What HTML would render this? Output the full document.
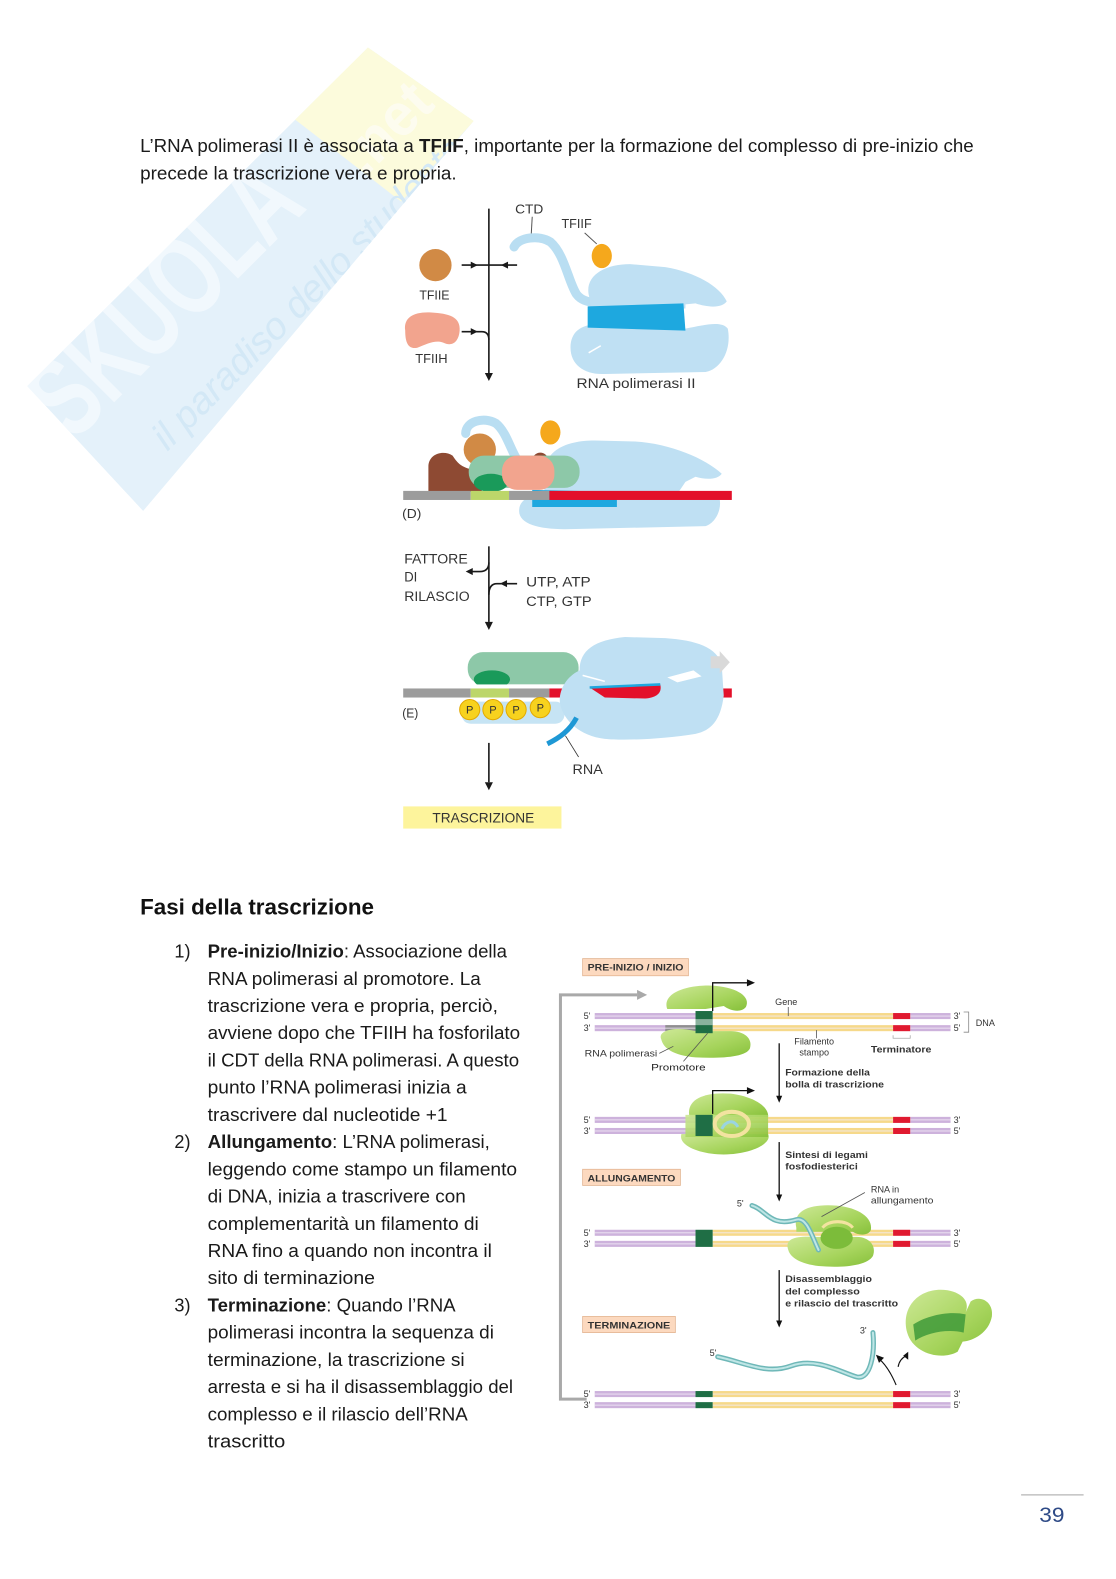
<!DOCTYPE html>
<html>
<head>
<meta charset="utf-8">
<style>
  html, body { margin:0; padding:0; background:#ffffff; }
  body { width:1116px; height:1579px; overflow:hidden; }
  svg { display:block; }
  .t { font-family:"Liberation Sans", sans-serif; }
</style>
</head>
<body>
<svg width="1116" height="1579" viewBox="0 0 1116 1579" xmlns="http://www.w3.org/2000/svg">
  <defs>
    <linearGradient id="gp" x1="0" y1="0" x2="1" y2="1">
      <stop offset="0" stop-color="#cde896"/>
      <stop offset="0.6" stop-color="#a6d45c"/>
      <stop offset="1" stop-color="#86c03a"/>
    </linearGradient>
    <clipPath id="wmclip">
      <polygon points="27,383 365,47 470,120 142,507"/>
    </clipPath>
  </defs>
  <rect x="0" y="0" width="1116" height="1579" fill="#ffffff"/>

<g transform="scale(1.008)">
  <!-- Watermark -->
  <g clip-path="url(#wmclip)">
    <polygon points="27,383 365,47 470,120 142,507" fill="#e4f1fa"/>
    <polygon points="292,118 365,47 470,120 398,200" fill="#fcfbdc"/>
    <g transform="rotate(-45 200 270)">
      <text x="-10" y="300" class="t" font-size="115" font-weight="bold" fill="#f1f8fd" textLength="330" lengthAdjust="spacingAndGlyphs">SKUOLA</text>
      <text x="50" y="372" class="t" font-size="38" font-style="italic" fill="#d3e8f6" textLength="420" lengthAdjust="spacingAndGlyphs">il paradiso dello studente</text>
    </g>
    <g transform="rotate(-45 380 130)">
      <text x="335" y="150" class="t" font-size="60" font-weight="bold" fill="#fdfcef" textLength="100" lengthAdjust="spacingAndGlyphs">.net</text>
    </g>
  </g>

  <!-- Top paragraph -->
  <text x="139" y="151" class="t" font-size="18" fill="#1a1a1a" textLength="827" lengthAdjust="spacingAndGlyphs">L’RNA polimerasi II è associata a <tspan font-weight="bold">TFIIF</tspan>, importante per la formazione del complesso di pre-inizio che</text>
  <text x="139" y="178" class="t" font-size="18" fill="#1a1a1a" textLength="314" lengthAdjust="spacingAndGlyphs">precede la trascrizione vera e propria.</text>

  <!-- ===== Top diagram ===== -->
  <g stroke="#1a1a1a" fill="none" stroke-width="1.6">
    <line x1="485" y1="207" x2="485" y2="370"/>
    <line x1="458" y1="263" x2="513" y2="263"/>
    <path d="M458,329 L478,329 Q485,329 485,337"/>
  </g>
  <polygon points="481,370 489,370 485,378" fill="#1a1a1a"/>
  <polygon points="474,263 467,259.5 467,266.5" fill="#1a1a1a"/>
  <polygon points="497,263 504,259.5 504,266.5" fill="#1a1a1a"/>
  <polygon points="474,329 467,325.5 467,332.5" fill="#1a1a1a"/>

  <circle cx="432" cy="263" r="16" fill="#d18a45"/>
  <text x="416" y="297" class="t" font-size="13" fill="#333" textLength="30" lengthAdjust="spacingAndGlyphs">TFIIE</text>
  <path d="M402,328 C400,314 412,309 428,310 C445,311 457,314 456,328 C455,340 448,344 440,340 C432,337 424,341 414,345 C404,347 402,338 402,328 Z" fill="#f2a48e"/>
  <text x="412" y="360" class="t" font-size="13" fill="#333" textLength="32" lengthAdjust="spacingAndGlyphs">TFIIH</text>

  <text x="511" y="212" class="t" font-size="13" fill="#333" textLength="28" lengthAdjust="spacingAndGlyphs">CTD</text>
  <line x1="528" y1="215" x2="527" y2="233" stroke="#555" stroke-width="1"/>
  <text x="557" y="226" class="t" font-size="13" fill="#333" textLength="30" lengthAdjust="spacingAndGlyphs">TFIIF</text>
  <line x1="580" y1="231" x2="592" y2="242" stroke="#555" stroke-width="1"/>

  <path d="M510,245 C515,235 535,233 546,240 C560,252 564,280 572,292 C578,300 590,301 602,299" stroke="#b9def2" stroke-width="9" fill="none" stroke-linecap="round"/>
  <!-- polymerase panel 1 -->
  <path d="M585,296 C578,275 598,262 625,262 L660,265 C690,270 714,284 721,299 C716,306 702,305 690,301 L680,302 L680,306 L586,306 Z" fill="#bfe0f3"/>
  <path d="M566,345 C566,328 578,320 600,322 L680,326 C700,322 716,318 722,326 C726,346 716,366 700,369 L600,371 C580,372 566,362 566,345 Z" fill="#bfe0f3"/>
  <path d="M583,304 L678,301 L680,328 L583,325 Z" fill="#1ea8df"/>
  <path d="M584,350 L596,343" stroke="#ffffff" stroke-width="1.5"/>
  <ellipse cx="597" cy="254" rx="10" ry="12" fill="#f5a81c"/>
  <text x="572" y="385" class="t" font-size="14" fill="#333" textLength="118" lengthAdjust="spacingAndGlyphs">RNA polimerasi II</text>

  <!-- Panel D -->
  <path d="M462,430 C462,418 480,413 492,420 C502,428 506,445 513,456" stroke="#b9def2" stroke-width="9" fill="none" stroke-linecap="round"/>
  <path d="M540,470 C540,448 560,437 590,437 L630,438 C665,440 700,455 716,470 C712,476 700,476 690,473 L680,478 L672,490 L540,490 Z" fill="#bfe0f3"/>
  <path d="M515,507 C515,496 525,490 545,490 L675,490 C690,488 705,485 712,490 C718,500 712,518 700,522 L560,525 C535,525 515,520 515,507 Z" fill="#bfe0f3"/>
  <path d="M528,486 L612,488 L612,503 L528,503 Z" fill="#1ea8df"/>
  <ellipse cx="546" cy="429" rx="10" ry="12" fill="#f5a81c"/>
  <path d="M425,488 L425,463 C425,450 440,446 449,452 C453,458 457,464 470,466 L478,470 L478,488 Z" fill="#8e4a33"/>
  <circle cx="476" cy="446" r="16" fill="#d18a45"/>
  <circle cx="536" cy="457" r="8" fill="#8e4a33"/>
  <rect x="465" y="452" width="110" height="32" rx="15" fill="#8dc8a8"/>
  <ellipse cx="487" cy="479" rx="17" ry="9" fill="#1a9a5a"/>
  <rect x="498" y="452" width="52" height="34" rx="15" fill="#f2a48e"/>
  <rect x="400" y="487" width="67" height="9" fill="#9c9c9c"/>
  <rect x="467" y="487" width="38" height="9" fill="#bcd66a"/>
  <rect x="505" y="487" width="40" height="9" fill="#9c9c9c"/>
  <rect x="545" y="487" width="181" height="9" fill="#e3102a"/>
  <text x="399" y="514" class="t" font-size="13" fill="#333" textLength="19" lengthAdjust="spacingAndGlyphs">(D)</text>

  <!-- middle arrows -->
  <g stroke="#1a1a1a" fill="none" stroke-width="1.6">
    <line x1="485" y1="542" x2="485" y2="617"/>
    <path d="M485,558 Q485,567 476,567 L468,567"/>
    <path d="M513,579 L493,579 Q485,579 485,590"/>
  </g>
  <polygon points="481,617 489,617 485,625" fill="#1a1a1a"/>
  <polygon points="462,567 469,563.5 469,570.5" fill="#1a1a1a"/>
  <polygon points="496,579 503,575.5 503,582.5" fill="#1a1a1a"/>
  <text x="401" y="559" class="t" font-size="14" fill="#333" textLength="63" lengthAdjust="spacingAndGlyphs">FATTORE</text>
  <text x="401" y="577" class="t" font-size="14" fill="#333" textLength="13" lengthAdjust="spacingAndGlyphs">DI</text>
  <text x="401" y="596" class="t" font-size="14" fill="#333" textLength="65" lengthAdjust="spacingAndGlyphs">RILASCIO</text>
  <text x="522" y="582" class="t" font-size="14" fill="#333" textLength="64" lengthAdjust="spacingAndGlyphs">UTP, ATP</text>
  <text x="522" y="601" class="t" font-size="14" fill="#333" textLength="65" lengthAdjust="spacingAndGlyphs">CTP, GTP</text>

  <!-- Panel E -->
  <rect x="464" y="647" width="110" height="32" rx="15" fill="#8dc8a8"/>
  <ellipse cx="488" cy="674" rx="18" ry="9" fill="#1a9a5a"/>
  <rect x="464" y="679" width="110" height="4" fill="#ffffff"/>
  <rect x="458" y="696" width="102" height="22" rx="9" fill="#c6e4f4"/>
  <rect x="400" y="683" width="67" height="9" fill="#9c9c9c"/>
  <rect x="467" y="683" width="38" height="9" fill="#bcd66a"/>
  <rect x="505" y="683" width="40" height="9" fill="#9c9c9c"/>
  <rect x="545" y="683" width="15" height="9" fill="#e3102a"/>
  <rect x="705" y="683" width="21" height="9" fill="#e3102a"/>
  <path d="M575,665 C575,645 590,635 620,632 L660,633 C690,635 712,642 716,660 L718,690 C715,715 705,725 690,728 C660,733 620,735 600,733 C575,730 560,715 556,700 C553,688 560,672 575,665 Z" fill="#bfe0f3"/>
  <path d="M662,672 L688,665 L696,671 L672,677 Z" fill="#ffffff"/>
  <path d="M578,670 L600,676" stroke="#ffffff" stroke-width="1.5"/>
  <path d="M585,682 L655,679 C657,687 652,692 640,693 L600,692 Z" fill="#e3102a"/>
  <path d="M585,682 L655,679" stroke="#1ea8df" stroke-width="2.5"/>
  <path d="M705,651 L714,651 L714,646 L724,657 L714,668 L714,663 L705,663 Z" fill="#d9d9d9"/>
  <g class="t" font-size="11" text-anchor="middle" fill="#333">
    <circle cx="466" cy="704" r="10" fill="#f7d21e" stroke="#e3a900" stroke-width="1"/>
    <text x="466" y="708">P</text>
    <circle cx="489" cy="704" r="10" fill="#f7d21e" stroke="#e3a900" stroke-width="1"/>
    <text x="489" y="708">P</text>
    <circle cx="512" cy="704" r="10" fill="#f7d21e" stroke="#e3a900" stroke-width="1"/>
    <text x="512" y="708">P</text>
    <circle cx="536" cy="702" r="10" fill="#f7d21e" stroke="#e3a900" stroke-width="1"/>
    <text x="536" y="706">P</text>
  </g>
  <text x="399" y="712" class="t" font-size="13" fill="#333" textLength="16" lengthAdjust="spacingAndGlyphs">(E)</text>
  <path d="M543,738 C555,732 565,725 572,712" stroke="#1e98d5" stroke-width="5" fill="none"/>
  <line x1="561" y1="730" x2="574" y2="751" stroke="#333" stroke-width="0.8"/>
  <text x="568" y="768" class="t" font-size="14" fill="#333" textLength="30" lengthAdjust="spacingAndGlyphs">RNA</text>
  <line x1="485" y1="737" x2="485" y2="776" stroke="#1a1a1a" stroke-width="1.6"/>
  <polygon points="481,776 489,776 485,784" fill="#1a1a1a"/>
  <rect x="400" y="800" width="157" height="22" fill="#fdf49c"/>
  <text x="429" y="816" class="t" font-size="14" fill="#333" textLength="101" lengthAdjust="spacingAndGlyphs">TRASCRIZIONE</text>

  <!-- Heading -->
  <text x="139" y="907" class="t" font-size="22" font-weight="bold" fill="#111" textLength="232" lengthAdjust="spacingAndGlyphs">Fasi della trascrizione</text>

  <!-- List -->
  <g class="t" font-size="18" fill="#1a1a1a">
    <text x="173" y="950">1)</text>
    <text x="206" y="950" textLength="297" lengthAdjust="spacingAndGlyphs"><tspan font-weight="bold">Pre-inizio/Inizio</tspan>: Associazione della</text>
    <text x="206" y="977" textLength="271" lengthAdjust="spacingAndGlyphs">RNA polimerasi al promotore. La</text>
    <text x="206" y="1004" textLength="288" lengthAdjust="spacingAndGlyphs">trascrizione vera e propria, perciò,</text>
    <text x="206" y="1031" textLength="310" lengthAdjust="spacingAndGlyphs">avviene dopo che TFIIH ha fosforilato</text>
    <text x="206" y="1058" textLength="309" lengthAdjust="spacingAndGlyphs">il CDT della RNA polimerasi. A questo</text>
    <text x="206" y="1085" textLength="257" lengthAdjust="spacingAndGlyphs">punto l’RNA polimerasi inizia a</text>
    <text x="206" y="1112" textLength="238" lengthAdjust="spacingAndGlyphs">trascrivere dal nucleotide +1</text>
    <text x="173" y="1139">2)</text>
    <text x="206" y="1139" textLength="280" lengthAdjust="spacingAndGlyphs"><tspan font-weight="bold">Allungamento</tspan>: L’RNA polimerasi,</text>
    <text x="206" y="1166" textLength="307" lengthAdjust="spacingAndGlyphs">leggendo come stampo un filamento</text>
    <text x="206" y="1193" textLength="256" lengthAdjust="spacingAndGlyphs">di DNA, inizia a trascrivere con</text>
    <text x="206" y="1220" textLength="269" lengthAdjust="spacingAndGlyphs">complementarità un filamento di</text>
    <text x="206" y="1247" textLength="282" lengthAdjust="spacingAndGlyphs">RNA fino a quando non incontra il</text>
    <text x="206" y="1274" textLength="166" lengthAdjust="spacingAndGlyphs">sito di terminazione</text>
    <text x="173" y="1301">3)</text>
    <text x="206" y="1301" textLength="246" lengthAdjust="spacingAndGlyphs"><tspan font-weight="bold">Terminazione</tspan>: Quando l’RNA</text>
    <text x="206" y="1328" textLength="284" lengthAdjust="spacingAndGlyphs">polimerasi incontra la sequenza di</text>
    <text x="206" y="1355" textLength="255" lengthAdjust="spacingAndGlyphs">terminazione, la trascrizione si</text>
    <text x="206" y="1382" textLength="303" lengthAdjust="spacingAndGlyphs">arresta e si ha il disassemblaggio del</text>
    <text x="206" y="1409" textLength="258" lengthAdjust="spacingAndGlyphs">complesso e il rilascio dell’RNA</text>
    <text x="206" y="1436" textLength="77" lengthAdjust="spacingAndGlyphs">trascritto</text>
  </g>

  <!-- ===== Bottom diagram ===== -->
  <path d="M632,987 L556,987 L556,1388 L582,1388" stroke="#a9a9a9" stroke-width="3" fill="none"/>
  <polygon points="632,982 642,987 632,992" fill="#a9a9a9"/>

  <rect x="578" y="951" width="105" height="17" fill="#fcd9bf" stroke="#e3b592" stroke-width="0.8"/>
  <text x="583" y="963" class="t" font-size="9" font-weight="bold" fill="#333" textLength="95" lengthAdjust="spacingAndGlyphs">PRE-INIZIO / INIZIO</text>
  <rect x="578" y="1160" width="97" height="16" fill="#fcd9bf" stroke="#e3b592" stroke-width="0.8"/>
  <text x="583" y="1172" class="t" font-size="9" font-weight="bold" fill="#333" textLength="87" lengthAdjust="spacingAndGlyphs">ALLUNGAMENTO</text>
  <rect x="578" y="1306" width="92" height="16" fill="#fcd9bf" stroke="#e3b592" stroke-width="0.8"/>
  <text x="583" y="1318" class="t" font-size="9" font-weight="bold" fill="#333" textLength="82" lengthAdjust="spacingAndGlyphs">TERMINAZIONE</text>

  <!-- Row 1 -->
  <g>
    <rect x="590" y="1005" width="100" height="6" fill="#cdb2dc"/>
    <rect x="590" y="1017" width="100" height="6" fill="#cdb2dc"/>
    <rect x="660" y="1017" width="30" height="6" fill="#8f8f8f"/>
    <rect x="707" y="1005" width="179" height="6" fill="#f6d98a"/>
    <rect x="707" y="1017" width="179" height="6" fill="#f6d98a"/>
    <rect x="903" y="1005" width="40" height="6" fill="#cdb2dc"/>
    <rect x="903" y="1017" width="40" height="6" fill="#cdb2dc"/>
    <rect x="590" y="1007.5" width="353" height="1" fill="#f3ecf6" opacity="0.8"/>
    <rect x="590" y="1019.5" width="353" height="1" fill="#f3ecf6" opacity="0.8"/>
  </g>
  <path d="M662,1001 C656,984 685,976 710,978 C732,980 745,989 740,999 C735,1005 725,1003 718,998 L700,1001 Z" fill="url(#gp)"/>
  <path d="M656,1031 C652,1022 670,1018 690,1023 L725,1023 C738,1023 747,1030 744,1040 C740,1049 715,1050 690,1049 C668,1047 658,1040 656,1031 Z" fill="url(#gp)"/>
  <rect x="690" y="1003" width="17" height="22" fill="#1f6e45"/>
  <rect x="690" y="1011" width="17" height="6" fill="#f5f5f5" opacity="0.5"/>
  <rect x="886" y="1005" width="17" height="6" fill="#e01a30"/>
  <rect x="886" y="1017" width="17" height="6" fill="#e01a30"/>
  <path d="M707,1003 L707,975 L742,975" stroke="#111" stroke-width="1.3" fill="none"/>
  <polygon points="741,971.5 749,975 741,978.5" fill="#111"/>
  <g class="t" font-size="9" fill="#333">
    <text x="579" y="1011">5'</text>
    <text x="579" y="1023">3'</text>
    <text x="946" y="1011">3'</text>
    <text x="946" y="1023">5'</text>
    <text x="769" y="997">Gene</text>
    <text x="788" y="1036">Filamento</text>
    <text x="793" y="1047">stampo</text>
    <text x="580" y="1048" textLength="72" lengthAdjust="spacingAndGlyphs">RNA polimerasi</text>
    <text x="968" y="1018">DNA</text>
  </g>
  <path d="M956,1004 L961,1004 L961,1024 L956,1024" stroke="#888" stroke-width="0.8" fill="none"/>
  <line x1="782" y1="999" x2="782" y2="1008" stroke="#555" stroke-width="0.8"/>
  <line x1="810" y1="1022" x2="810" y2="1030" stroke="#555" stroke-width="0.8"/>
  <path d="M886,1027 L886,1030 L903,1030 L903,1027" stroke="#aaa" stroke-width="0.8" fill="none"/>
  <text x="864" y="1044" class="t" font-size="9" font-weight="bold" fill="#333" textLength="60" lengthAdjust="spacingAndGlyphs">Terminatore</text>
  <text x="646" y="1062" class="t" font-size="9.5" fill="#222" textLength="54" lengthAdjust="spacingAndGlyphs">Promotore</text>
  <line x1="654" y1="1045" x2="668" y2="1038" stroke="#555" stroke-width="0.8"/>
  <line x1="678" y1="1053" x2="702" y2="1025" stroke="#555" stroke-width="0.8"/>

  <line x1="773" y1="1035" x2="773" y2="1088" stroke="#111" stroke-width="1.3"/>
  <polygon points="770,1087 776,1087 773,1094" fill="#111"/>
  <g class="t" font-size="9" font-weight="bold" fill="#333">
    <text x="779" y="1067" textLength="84" lengthAdjust="spacingAndGlyphs">Formazione della</text>
    <text x="779" y="1079" textLength="98" lengthAdjust="spacingAndGlyphs">bolla di trascrizione</text>
    <text x="779" y="1149" textLength="82" lengthAdjust="spacingAndGlyphs">Sintesi di legami</text>
    <text x="779" y="1160" textLength="72" lengthAdjust="spacingAndGlyphs">fosfodiesterici</text>
    <text x="779" y="1272" textLength="86" lengthAdjust="spacingAndGlyphs">Disassemblaggio</text>
    <text x="779" y="1284" textLength="74" lengthAdjust="spacingAndGlyphs">del complesso</text>
    <text x="779" y="1296" textLength="112" lengthAdjust="spacingAndGlyphs">e rilascio del trascritto</text>
  </g>

  <!-- Row 2 -->
  <g>
    <rect x="590" y="1108" width="100" height="6" fill="#cdb2dc"/>
    <rect x="590" y="1119" width="100" height="6" fill="#cdb2dc"/>
    <rect x="707" y="1108" width="179" height="6" fill="#f6d98a"/>
    <rect x="707" y="1119" width="179" height="6" fill="#f6d98a"/>
    <rect x="903" y="1108" width="40" height="6" fill="#cdb2dc"/>
    <rect x="903" y="1119" width="40" height="6" fill="#cdb2dc"/>
    <rect x="590" y="1110.5" width="353" height="1" fill="#f3ecf6" opacity="0.8"/>
    <rect x="590" y="1121.5" width="353" height="1" fill="#f3ecf6" opacity="0.8"/>
  </g>
  <path d="M684,1108 C680,1090 700,1083 725,1085 C748,1088 763,1098 762,1108 Z" fill="url(#gp)"/>
  <path d="M676,1125 C672,1138 700,1147 725,1145 C750,1143 766,1133 762,1125 Z" fill="url(#gp)"/>
  <rect x="680" y="1106" width="82" height="22" fill="url(#gp)" opacity="0.9"/>
  <rect x="690" y="1106" width="17" height="21" fill="#1f6e45"/>
  <ellipse cx="726" cy="1115" rx="17" ry="12" fill="none" stroke="#f3e3a0" stroke-width="4"/>
  <path d="M716,1120 C720,1112 728,1110 732,1118" stroke="#9ad4e0" stroke-width="3" fill="none"/>
  <rect x="886" y="1108" width="17" height="6" fill="#e01a30"/>
  <rect x="886" y="1119" width="17" height="6" fill="#e01a30"/>
  <path d="M707,1105 L707,1082 L742,1082" stroke="#111" stroke-width="1.3" fill="none"/>
  <polygon points="741,1078.5 749,1082 741,1085.5" fill="#111"/>
  <g class="t" font-size="9" fill="#333">
    <text x="579" y="1114">5'</text>
    <text x="579" y="1125">3'</text>
    <text x="946" y="1114">3'</text>
    <text x="946" y="1125">5'</text>
  </g>

  <line x1="773" y1="1133" x2="773" y2="1186" stroke="#111" stroke-width="1.3"/>
  <polygon points="770,1185 776,1185 773,1192" fill="#111"/>

  <!-- Row 3 -->
  <g>
    <rect x="590" y="1220" width="100" height="6" fill="#cdb2dc"/>
    <rect x="590" y="1231" width="100" height="6" fill="#cdb2dc"/>
    <rect x="707" y="1220" width="179" height="6" fill="#f6d98a"/>
    <rect x="707" y="1231" width="179" height="6" fill="#f6d98a"/>
    <rect x="903" y="1220" width="40" height="6" fill="#cdb2dc"/>
    <rect x="903" y="1231" width="40" height="6" fill="#cdb2dc"/>
    <rect x="590" y="1222.5" width="353" height="1" fill="#f3ecf6" opacity="0.8"/>
    <rect x="590" y="1233.5" width="353" height="1" fill="#f3ecf6" opacity="0.8"/>
  </g>
  <rect x="690" y="1220" width="17" height="17" fill="#1f6e45"/>
  <rect x="886" y="1220" width="17" height="6" fill="#e01a30"/>
  <rect x="886" y="1231" width="17" height="6" fill="#e01a30"/>
  <path d="M790,1218 C786,1200 805,1194 830,1196 C852,1198 866,1208 864,1220 C862,1226 852,1226 846,1222 L790,1222 Z" fill="url(#gp)"/>
  <path d="M782,1240 C778,1228 790,1226 810,1227 L850,1227 C862,1227 870,1236 866,1246 C860,1256 835,1258 812,1256 C795,1254 784,1248 782,1240 Z" fill="url(#gp)"/>
  <ellipse cx="830" cy="1228" rx="16" ry="11" fill="#7cbc3a"/>
  <path d="M816,1218 C822,1210 840,1210 846,1218" stroke="#f3e3a0" stroke-width="3" fill="none"/>
  <path d="M746,1196 C760,1200 764,1218 790,1210 C800,1207 805,1225 812,1240" stroke="#6fb8b8" stroke-width="5" fill="none" stroke-linecap="round"/>
  <path d="M746,1196 C760,1200 764,1218 790,1210 C800,1207 805,1225 812,1240" stroke="#bfe6e6" stroke-width="2" fill="none" stroke-linecap="round"/>
  <line x1="858" y1="1183" x2="815" y2="1207" stroke="#555" stroke-width="0.8"/>
  <g class="t" font-size="9" fill="#333">
    <text x="579" y="1226">5'</text>
    <text x="579" y="1237">3'</text>
    <text x="946" y="1226">3'</text>
    <text x="946" y="1237">5'</text>
    <text x="731" y="1197">5'</text>
    <text x="864" y="1183">RNA in</text>
    <text x="864" y="1194" textLength="62" lengthAdjust="spacingAndGlyphs">allungamento</text>
  </g>

  <line x1="773" y1="1260" x2="773" y2="1311" stroke="#111" stroke-width="1.3"/>
  <polygon points="770,1310 776,1310 773,1317" fill="#111"/>

  <!-- free polymerase -->
  <path d="M900,1322 C893,1296 913,1276 940,1280 C956,1283 962,1292 958,1302 L963,1291 C973,1284 986,1292 984,1306 C981,1322 966,1330 955,1331 L950,1341 C934,1350 906,1343 900,1322 Z" fill="url(#gp)"/>
  <path d="M906,1314 C918,1306 940,1300 958,1304 L956,1322 C940,1318 920,1322 908,1330 Z" fill="#3f9a3a" opacity="0.85"/>
  <path d="M712,1346 C740,1352 760,1364 785,1355 C810,1346 835,1362 850,1366 C864,1369 868,1342 866,1322" stroke="#6fb8b8" stroke-width="5" fill="none" stroke-linecap="round"/>
  <path d="M712,1346 C740,1352 760,1364 785,1355 C810,1346 835,1362 850,1366 C864,1369 868,1342 866,1322" stroke="#bfe6e6" stroke-width="2" fill="none" stroke-linecap="round"/>
  <g class="t" font-size="9" fill="#333">
    <text x="704" y="1345">5'</text>
    <text x="853" y="1323">3'</text>
  </g>
  <path d="M889,1374 C883,1360 878,1353 872,1348" stroke="#111" stroke-width="1.1" fill="none"/>
  <polygon points="869,1344 877,1347 872,1352" fill="#111"/>
  <path d="M891,1356 C892,1350 895,1347 899,1345" stroke="#111" stroke-width="1.1" fill="none"/>
  <polygon points="901,1341 901,1349 896,1345" fill="#111"/>

  <!-- Row 4 -->
  <g>
    <rect x="590" y="1380" width="100" height="6" fill="#cdb2dc"/>
    <rect x="590" y="1391" width="100" height="6" fill="#cdb2dc"/>
    <rect x="707" y="1380" width="179" height="6" fill="#f6d98a"/>
    <rect x="707" y="1391" width="179" height="6" fill="#f6d98a"/>
    <rect x="903" y="1380" width="40" height="6" fill="#cdb2dc"/>
    <rect x="903" y="1391" width="40" height="6" fill="#cdb2dc"/>
    <rect x="590" y="1382.5" width="353" height="1" fill="#f3ecf6" opacity="0.8"/>
    <rect x="590" y="1393.5" width="353" height="1" fill="#f3ecf6" opacity="0.8"/>
  </g>
  <rect x="690" y="1380" width="17" height="6" fill="#1f6e45"/>
  <rect x="690" y="1391" width="17" height="6" fill="#1f6e45"/>
  <rect x="886" y="1380" width="17" height="6" fill="#e01a30"/>
  <rect x="886" y="1391" width="17" height="6" fill="#e01a30"/>
  <g class="t" font-size="9" fill="#333">
    <text x="579" y="1386">5'</text>
    <text x="579" y="1397">3'</text>
    <text x="946" y="1386">3'</text>
    <text x="946" y="1397">5'</text>
  </g>

  <!-- footer -->
  <line x1="1013" y1="1483" x2="1075" y2="1483" stroke="#b5b5b5" stroke-width="1.2"/>
  <text x="1031" y="1510" class="t" font-size="21" fill="#2e4a86" textLength="25" lengthAdjust="spacingAndGlyphs">39</text>
</g>
</svg>
</body>
</html>
